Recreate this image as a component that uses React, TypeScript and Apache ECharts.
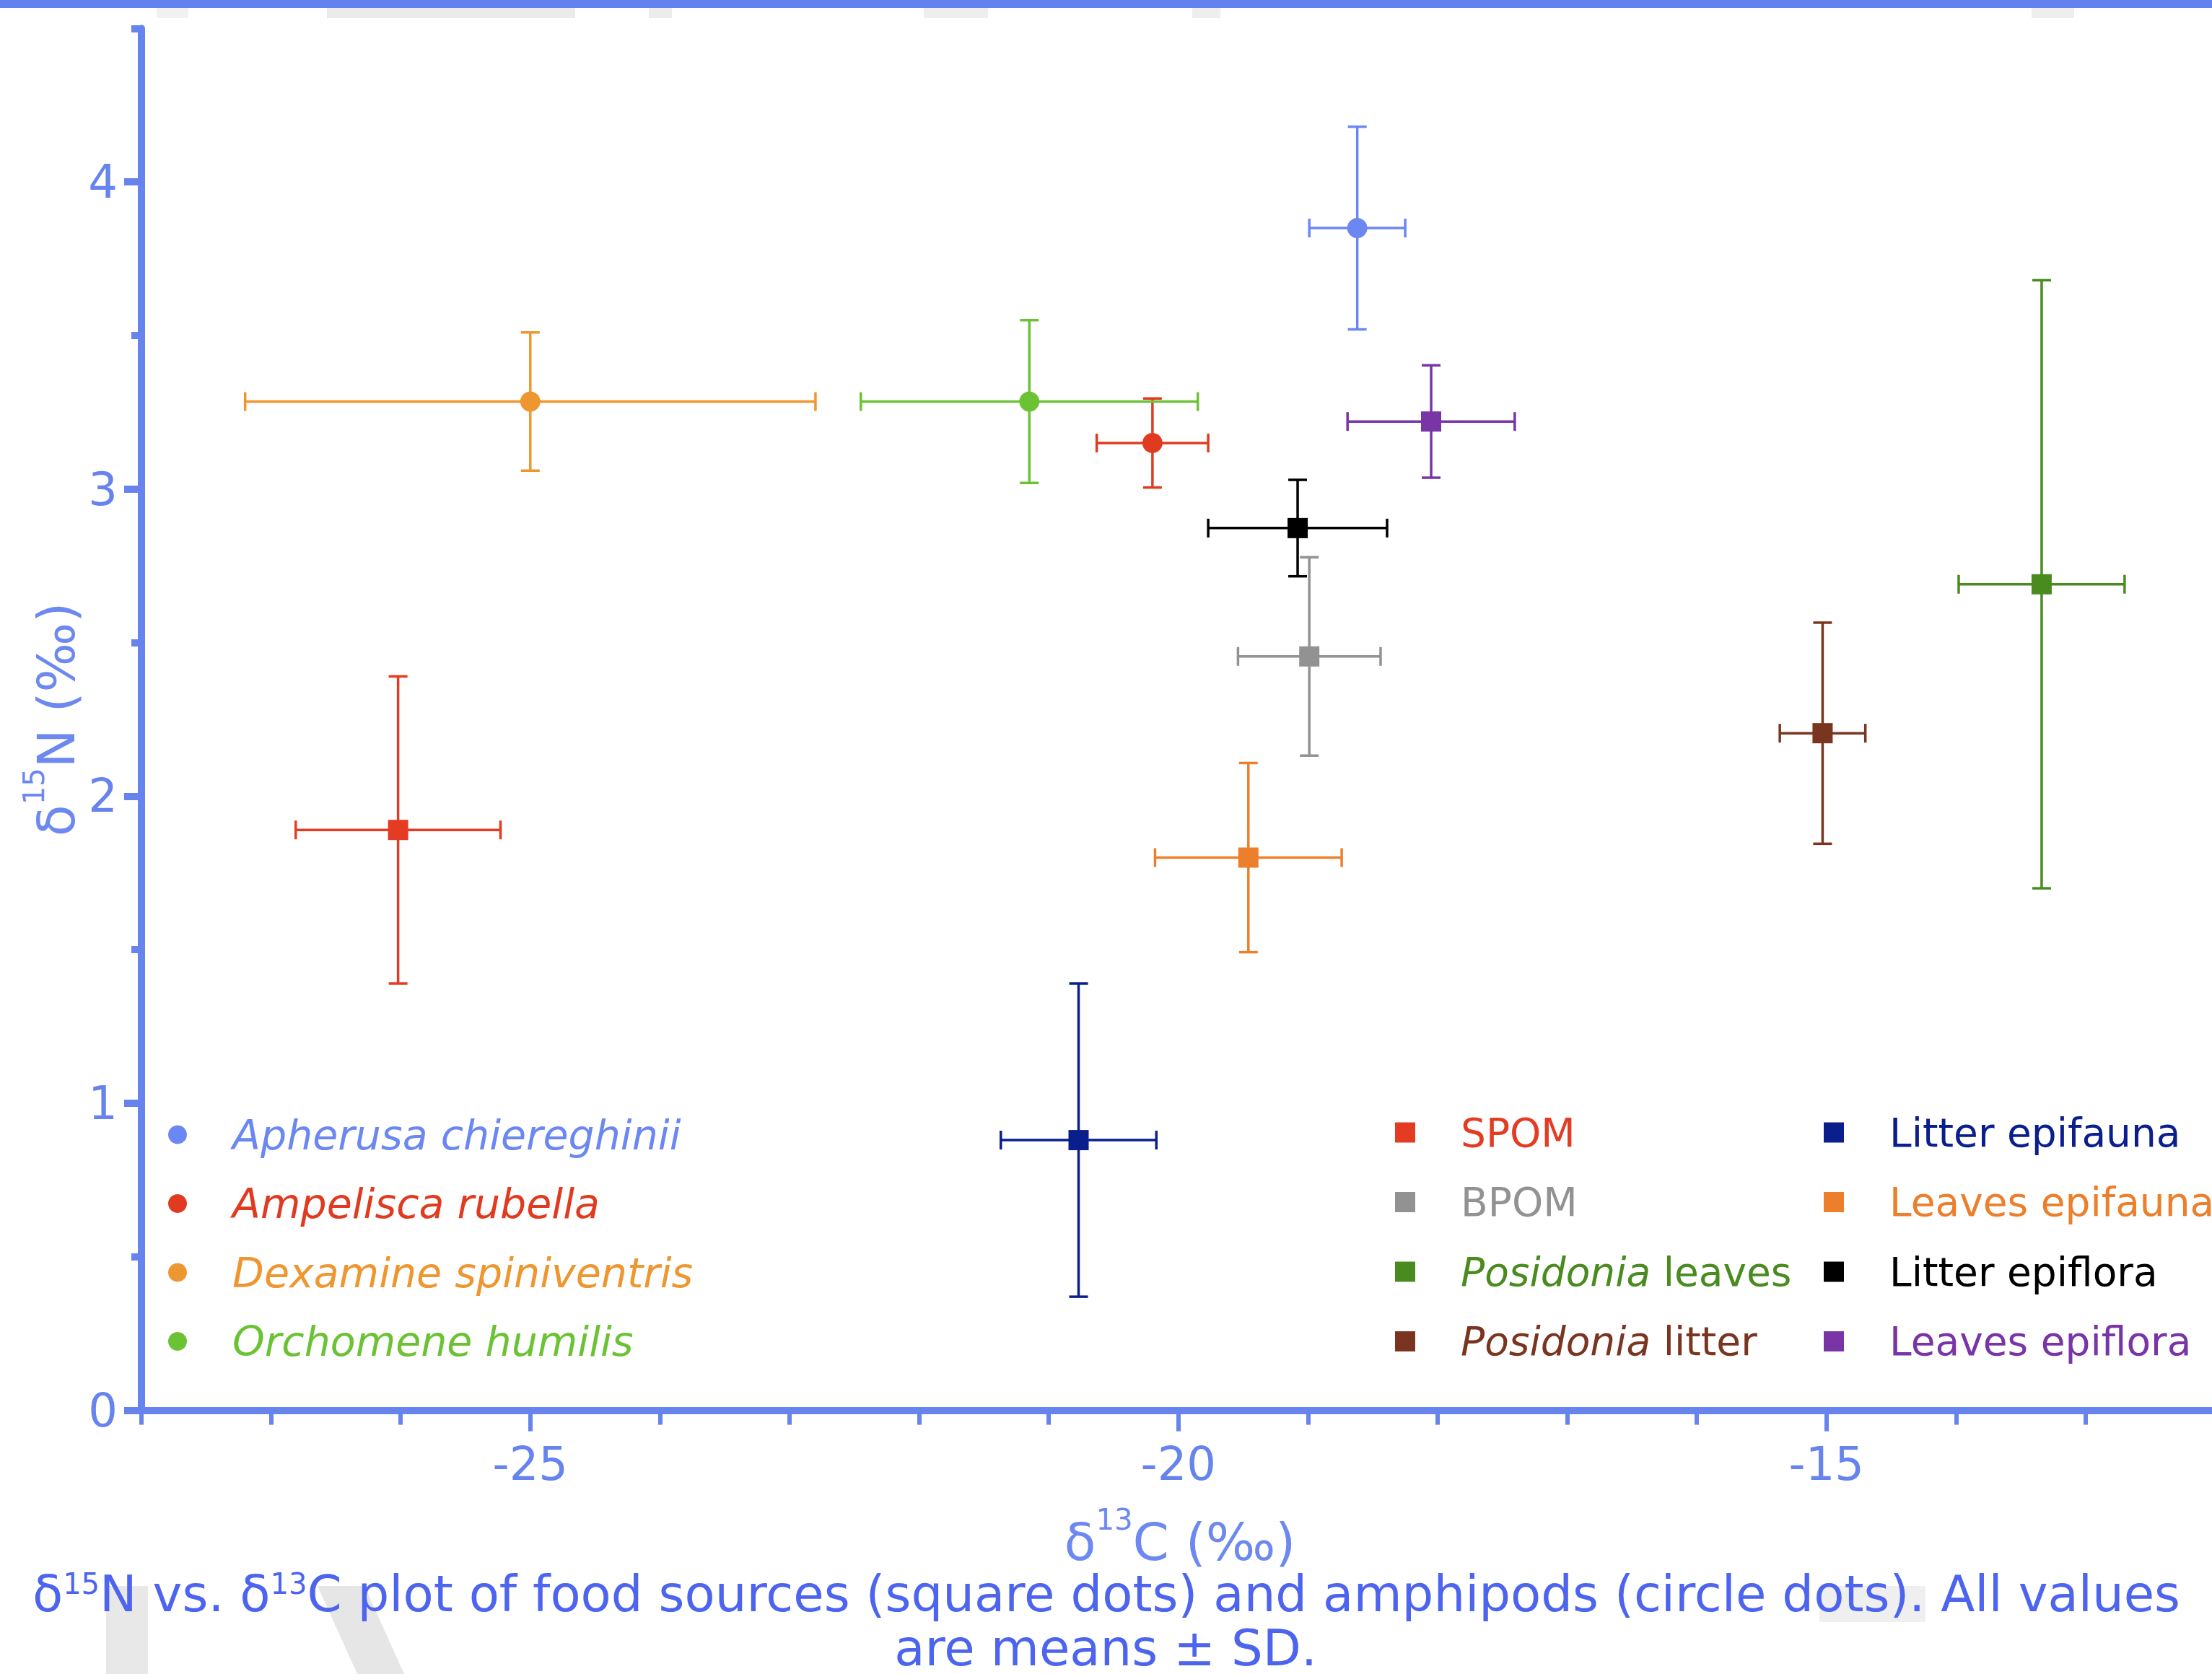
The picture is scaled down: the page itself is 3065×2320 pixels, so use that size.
import React, { useEffect, useRef } from 'react';
import * as echarts from 'echarts';

const FONT = '"DejaVu Sans", Verdana, sans-serif';
const AXIS_COLOR = '#6784ee';
const TITLE_COLOR = '#6d89f0';
const CAPTION_COLOR = '#4d64ef';

// Amphipods (circle dots): mean δ13C ± SD, mean δ15N ± SD
const amphipodNames = ['Apherusa chiereghinii', 'Ampelisca rubella', 'Dexamine spiniventris', 'Orchomene humilis'];
const amphipodC = [-18.62, -20.2, -25.0, -21.15];
const amphipodCsd = [0.37, 0.43, 2.2, 1.3];
const amphipodN = [3.85, 3.15, 3.285, 3.285];
const amphipodNsd = [0.33, 0.145, 0.225, 0.265];
const amphipodColors = ['#6b87f2', '#e03b20', '#ee962f', '#6cc235'];

// Food sources (square dots)
const sourceNames = ['SPOM', 'BPOM', 'Posidonia leaves', 'Posidonia litter', 'Litter epifauna', 'Leaves epifauna', 'Litter epiflora', 'Leaves epiflora'];
const sourceC = [-26.02, -18.99, -13.34, -15.03, -20.77, -19.46, -19.08, -18.05];
const sourceCsd = [0.79, 0.55, 0.64, 0.33, 0.6, 0.72, 0.69, 0.645];
const sourceN = [1.89, 2.455, 2.69, 2.205, 0.88, 1.8, 2.873, 3.22];
const sourceNsd = [0.5, 0.323, 0.99, 0.36, 0.51, 0.308, 0.157, 0.183];
const sourceColors = ['#e43c22', '#929292', '#4a8b20', '#7a3520', '#0a1e8c', '#ec7f2c', '#000000', '#7935a6'];

const xMajorTicks = [-25, -20, -15];
const yMajorTicks = [0, 1, 2, 3, 4];

const makeRenderItem = (shape: 'circle' | 'rect') => (params: any, api: any) => {
  const x = api.value(0);
  const y = api.value(1);
  const sx = api.value(2);
  const sy = api.value(3);
  const c = api.coord([x, y]);
  const l = api.coord([x - sx, y]);
  const r = api.coord([x + sx, y]);
  const t = api.coord([x, y + sy]);
  const b = api.coord([x, y - sy]);
  const color = api.visual('color');
  const ls = { stroke: color, lineWidth: 3.5 };
  const cap = 13;
  const marker =
    shape === 'circle'
      ? { type: 'circle', shape: { cx: c[0], cy: c[1], r: 14 }, style: { fill: color } }
      : { type: 'rect', shape: { x: c[0] - 14, y: c[1] - 14, width: 28, height: 28 }, style: { fill: color } };
  return {
    type: 'group',
    children: [
      { type: 'line', shape: { x1: l[0], y1: l[1], x2: r[0], y2: r[1] }, style: ls },
      { type: 'line', shape: { x1: l[0], y1: l[1] - cap, x2: l[0], y2: l[1] + cap }, style: ls },
      { type: 'line', shape: { x1: r[0], y1: r[1] - cap, x2: r[0], y2: r[1] + cap }, style: ls },
      { type: 'line', shape: { x1: t[0], y1: t[1], x2: b[0], y2: b[1] }, style: ls },
      { type: 'line', shape: { x1: t[0] - cap, y1: t[1], x2: t[0] + cap, y2: t[1] }, style: ls },
      { type: 'line', shape: { x1: b[0] - cap, y1: b[1], x2: b[0] + cap, y2: b[1] }, style: ls },
      marker,
    ],
  };
};

const makeSeries = (
  names: string[], cs: number[], csd: number[], ns: number[], nsd: number[], colors: string[], shape: 'circle' | 'rect'
) =>
  names.map((name, i) => ({
    type: 'custom',
    name,
    xAxisIndex: 0,
    yAxisIndex: 0,
    itemStyle: { color: colors[i] },
    dimensions: ['d13C', 'd15N', 'sdC', 'sdN'],
    encode: { x: 0, y: 1 },
    data: [[cs[i], ns[i], csd[i], nsd[i]]],
    renderItem: makeRenderItem(shape),
    clip: false,
    z: 3,
  }));

const legendRich = (color: string) => ({
  s: { width: 58, height: 10 },
  i: { color, fontStyle: 'italic', fontSize: 57, fontFamily: FONT, lineHeight: 56 },
  n: { color, fontStyle: 'normal', fontSize: 55, fontFamily: FONT, lineHeight: 56 },
});

const legendItem = (name: string, color: string, icon: string) => ({
  name,
  icon,
  itemStyle: { color },
  textStyle: { color, rich: legendRich(color) },
});

const legendFormatter = (name: string) => {
  if (amphipodNames.includes(name)) return `{s|}{i|${name}}`;
  if (name.startsWith('Posidonia ')) return `{s|}{p|Posidonia}{n|${name.slice(9)}}`;
  return `{s|}{n|${name}}`;
};

const sourceLegendItem = (name: string, color: string) => {
  const it: any = legendItem(name, color, 'rect');
  it.textStyle.rich.p = { color, fontStyle: 'italic', fontSize: 55, fontFamily: FONT, lineHeight: 56 };
  return it;
};

const baseLegend = {
  orient: 'vertical',
  padding: 0,
  itemGap: 41.5,
  selectedMode: false,
  formatter: legendFormatter,
  textStyle: { fontFamily: FONT, fontSize: 55 },
};

// superscript is raised by bottom padding (text shifts up by half of it)
const titleRich = (fill: string, main: number, lh: number, sup: number, raise: number) => ({
  n: { fill, fontSize: main, fontFamily: FONT, lineHeight: lh },
  sup: { fill, fontSize: sup, fontFamily: FONT, lineHeight: 30, padding: [0, 0, raise, 0] },
});

const gray = (x: number, y: number, w: number, h: number, fill: string) => ({
  type: 'rect',
  shape: { x, y, width: w, height: h },
  style: { fill },
  z: -5,
  silent: true,
});

export default function App() {
  const ref = useRef<HTMLDivElement>(null);
  useEffect(() => {
    const chart = echarts.init(ref.current!, null, { renderer: 'svg' });
    const option: any = {
      animation: false,
      backgroundColor: '#ffffff',
      grid: { left: 196, top: 39.4, right: 50.8, bottom: 365.4, containLabel: false, outerBoundsMode: 'none' },
      xAxis: [
        {
          type: 'value', min: -28, max: -11, interval: 1, position: 'bottom',
          axisLine: { show: true, onZero: false, lineStyle: { color: AXIS_COLOR, width: 10 } },
          axisTick: { show: true, length: 20, lineStyle: { color: AXIS_COLOR, width: 6 } },
          axisLabel: { show: false },
          splitLine: { show: false },
        },
        {
          type: 'value', min: -28, max: -11, interval: 1, position: 'bottom',
          axisLine: { show: false, onZero: false },
          axisTick: { show: true, customValues: xMajorTicks, length: 29, lineStyle: { color: AXIS_COLOR, width: 6 } },
          axisLabel: { show: true, customValues: xMajorTicks, fontSize: 64, color: AXIS_COLOR, fontFamily: FONT, margin: 42 },
          splitLine: { show: false },
        },
      ],
      yAxis: [
        {
          type: 'value', min: 0, max: 4.5, interval: 0.5, position: 'left',
          axisLine: { show: true, onZero: false, lineStyle: { color: AXIS_COLOR, width: 10 } },
          axisTick: { show: true, length: 14, lineStyle: { color: AXIS_COLOR, width: 10 } },
          axisLabel: { show: false },
          splitLine: { show: false },
        },
        {
          type: 'value', min: 0, max: 4.5, interval: 0.5, position: 'left',
          axisLine: { show: false, onZero: false },
          axisTick: { show: true, customValues: yMajorTicks, length: 24, lineStyle: { color: AXIS_COLOR, width: 10 } },
          axisLabel: { show: true, customValues: yMajorTicks, fontSize: 64, color: AXIS_COLOR, fontFamily: FONT, margin: 33 },
          splitLine: { show: false },
        },
      ],
      legend: [
        {
          ...baseLegend,
          itemGap: 38.5,
          left: 233, top: 1544, itemWidth: 26, itemHeight: 26,
          data: amphipodNames.map((n, i) => legendItem(n, amphipodColors[i], 'circle')),
        },
        {
          ...baseLegend,
          left: 1933, top: 1542, itemWidth: 28, itemHeight: 28,
          data: sourceNames.slice(0, 4).map((n, i) => sourceLegendItem(n, sourceColors[i])),
        },
        {
          ...baseLegend,
          left: 2527, top: 1542, itemWidth: 28, itemHeight: 28,
          data: sourceNames.slice(4).map((n, i) => sourceLegendItem(n, sourceColors[i + 4])),
        },
      ],
      series: [
        ...makeSeries(amphipodNames, amphipodC, amphipodCsd, amphipodN, amphipodNsd, amphipodColors, 'circle'),
        ...makeSeries(sourceNames, sourceC, sourceCsd, sourceN, sourceNsd, sourceColors, 'rect'),
      ],
      graphic: {
        elements: [
          gray(217, 11, 44, 14, '#f1f1f1'),
          gray(453, 11, 344, 14, '#ebebeb'),
          gray(899, 11, 32, 14, '#ececec'),
          gray(1280, 11, 89, 14, '#eeeeee'),
          gray(1652, 11, 39, 14, '#eeeeee'),
          gray(2815, 11, 59, 14, '#eeeeee'),
          gray(147, 2198, 58, 122, '#e8e8e8'),
          {
            type: 'polygon',
            shape: { points: [[440, 2198], [505, 2198], [560, 2320], [495, 2320]] },
            style: { fill: '#e6e6e6' },
            z: -5,
            silent: true,
          },
          gray(2521, 2198, 147, 50, '#efefef'),
          { type: 'rect', shape: { x: 0, y: 0, width: 3300, height: 11 }, style: { fill: '#6282ef' }, z: 10 },
          {
            type: 'text', x: 1635, y: 2137, z: 10,
            style: {
              text: '{n|δ}{sup|13}{n|C (‰)}',
              rich: titleRich(TITLE_COLOR, 72, 72, 40, 62),
              fill: TITLE_COLOR, font: `72px ${FONT}`,
              align: 'center', verticalAlign: 'middle', textAlign: 'center', textVerticalAlign: 'middle',
            },
          },
          {
            type: 'text', x: 78, y: 997, rotation: Math.PI / 2, z: 10,
            style: {
              text: '{n|δ}{sup|15}{n|N (‰)}',
              rich: titleRich(TITLE_COLOR, 72, 72, 40, 62),
              fill: TITLE_COLOR, font: `72px ${FONT}`,
              align: 'center', verticalAlign: 'middle', textAlign: 'center', textVerticalAlign: 'middle',
            },
          },
          {
            type: 'text', x: 1533, y: 2209, z: 10,
            style: {
              text: '{n|δ}{sup|15}{n|N vs. δ}{sup|13}{n|C plot of food sources (square dots) and amphipods (circle dots). All values}',
              rich: titleRich(CAPTION_COLOR, 69, 70, 40, 28),
              fill: CAPTION_COLOR, font: `69px ${FONT}`,
              align: 'center', verticalAlign: 'middle', textAlign: 'center', textVerticalAlign: 'middle',
            },
          },
          {
            type: 'text', x: 1532, y: 2284, z: 10,
            style: {
              text: 'are means ± SD.',
              fill: CAPTION_COLOR, font: `69px ${FONT}`, lineHeight: 60,
              align: 'center', verticalAlign: 'middle', textAlign: 'center', textVerticalAlign: 'middle',
            },
          },
        ],
      },
    };
    chart.setOption(option);
    return () => chart.dispose();
  }, []);
  return (
    <div style={{ position: 'fixed', left: 0, top: 0, width: 3065, height: 2320, overflow: 'hidden', background: '#ffffff' }}>
      <div ref={ref} style={{ width: 3300, height: 2320 }} />
    </div>
  );
}
